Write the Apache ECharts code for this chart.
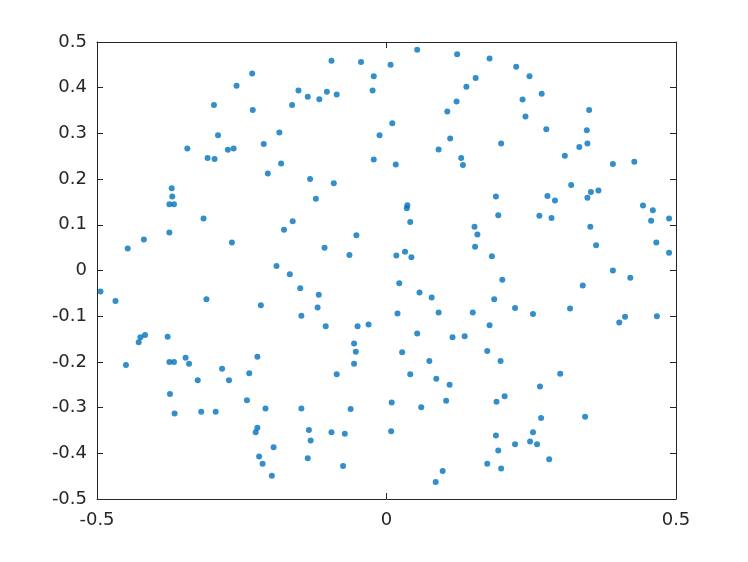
<!DOCTYPE html>
<html>
<head>
<meta charset="utf-8">
<script src="https://cdn.jsdelivr.net/npm/echarts@6/dist/echarts.min.js"></script>
<style>
  html, body { margin: 0; padding: 0; background: #fff; }
  #chart { width: 748px; height: 562px; }
</style>
</head>
<body>
<div id="chart"></div>
<script>
// point positions
const xs = [
  -0.232, -0.259, -0.298, -0.231, -0.163, -0.291, -0.344, -0.309, -0.297, -0.274,
  -0.264, -0.212, -0.185, -0.182, -0.205, -0.371, -0.152, -0.136, -0.116, -0.103,
  -0.086, -0.095, -0.044, 0.007, 0.053, 0.122, -0.022, -0.024, 0.154, 0.138,
  0.121, 0.105, 0.010, -0.012, 0.110, 0.090, 0.129, 0.132, -0.022, 0.016,
  -0.132, -0.091, 0.178, 0.224, 0.247, 0.268, 0.235, 0.350, 0.240, 0.276,
  0.346, 0.198, 0.347, 0.333, 0.308, 0.391, 0.428, 0.319, 0.353, 0.366,
  0.189, 0.193, 0.278, 0.291, 0.347, 0.264, 0.285, 0.352, 0.443, 0.460,
  0.457, 0.488, 0.362, 0.466, 0.488, 0.182, 0.200, 0.391, 0.421, 0.339,
  0.186, 0.222, 0.253, 0.317, 0.178, 0.402, 0.412, 0.467, -0.370, -0.375,
  -0.367, -0.316, -0.375, -0.419, -0.447, -0.267, -0.177, -0.190, -0.167, -0.494,
  -0.468, -0.311, -0.217, -0.425, -0.428, -0.417, -0.378, -0.122, -0.162, -0.052,
  -0.107, -0.064, -0.149, -0.117, -0.119, -0.147, -0.105, -0.050, -0.031, -0.056,
  0.036, 0.035, 0.041, 0.152, 0.157, 0.153, 0.017, 0.032, 0.043, 0.022,
  0.057, 0.078, 0.019, 0.090, 0.149, 0.053, 0.114, 0.135, -0.450, -0.375,
  -0.367, -0.347, -0.341, -0.374, -0.366, -0.326, -0.320, -0.295, -0.284, -0.272,
  -0.223, -0.237, -0.241, -0.209, -0.223, -0.226, -0.195, -0.220, -0.214, -0.198,
  -0.053, -0.056, -0.086, 0.027, 0.074, 0.041, 0.086, 0.109, 0.103, 0.009,
  0.060, -0.147, -0.062, -0.134, -0.095, -0.072, 0.008, -0.131, -0.136, -0.075,
  0.097, 0.085, 0.174, 0.197, 0.300, 0.265, 0.204, 0.190, 0.267, 0.343,
  0.189, 0.253, 0.248, 0.222, 0.260, 0.193, 0.281, 0.174, 0.198
];
const ys = [
  0.431, 0.404, 0.362, 0.351, 0.362, 0.296, 0.267, 0.246, 0.244, 0.264,
  0.267, 0.277, 0.302, 0.234, 0.212, 0.180, 0.394, 0.380, 0.375, 0.391,
  0.385, 0.459, 0.456, 0.450, 0.483, 0.473, 0.425, 0.394, 0.421, 0.402,
  0.370, 0.348, 0.322, 0.296, 0.289, 0.265, 0.246, 0.231, 0.243, 0.232,
  0.200, 0.191, 0.464, 0.446, 0.425, 0.387, 0.374, 0.351, 0.337, 0.309,
  0.307, 0.278, 0.278, 0.270, 0.251, 0.233, 0.238, 0.187, 0.172, 0.175,
  0.162, 0.121, 0.163, 0.153, 0.159, 0.120, 0.115, 0.096, 0.142, 0.132,
  0.109, 0.114, 0.055, 0.061, 0.039, 0.031, -0.020, 0.000, -0.016, -0.033,
  -0.063, -0.082, -0.095, -0.083, -0.120, -0.114, -0.101, -0.100, 0.162, 0.145,
  0.145, 0.114, 0.083, 0.068, 0.048, 0.061, 0.089, 0.010, -0.008, -0.046,
  -0.067, -0.063, -0.076, -0.146, -0.157, -0.141, -0.145, 0.157, 0.108, 0.077,
  0.050, 0.034, -0.039, -0.053, -0.081, -0.099, -0.122, -0.122, -0.118, -0.160,
  0.143, 0.136, 0.106, 0.096, 0.079, 0.052, 0.033, 0.041, 0.029, -0.028,
  -0.048, -0.059, -0.094, -0.092, -0.092, -0.138, -0.146, -0.144, -0.207, -0.200,
  -0.200, -0.191, -0.204, -0.270, -0.313, -0.240, -0.309, -0.309, -0.215, -0.240,
  -0.189, -0.225, -0.284, -0.302, -0.344, -0.354, -0.387, -0.407, -0.423, -0.449,
  -0.178, -0.204, -0.227, -0.179, -0.198, -0.227, -0.237, -0.250, -0.285, -0.289,
  -0.299, -0.302, -0.303, -0.349, -0.354, -0.357, -0.352, -0.372, -0.411, -0.428,
  -0.439, -0.463, -0.176, -0.198, -0.226, -0.254, -0.275, -0.287, -0.323, -0.320,
  -0.361, -0.354, -0.374, -0.380, -0.380, -0.394, -0.413, -0.423, -0.433
];
const xTickLabels = ['-0.5', '0', '0.5'];
const yTickLabels = ['-0.5', '-0.4', '-0.3', '-0.2', '-0.1', '0', '0.1', '0.2', '0.3', '0.4', '0.5'];

const axisColor = '#262626';
const dotColor = '#0072bd';

const points = xs.map((x, i) => [x, ys[i]]);
const labelOf = (labels, min, step) => v => labels[Math.round((v - min) / step)] ?? '';

const chart = echarts.init(document.getElementById('chart'));

const baseAxis = {
  type: 'value',
  axisLine: { show: true, onZero: false, lineStyle: { color: axisColor, width: 1 } },
  axisTick: { show: true, inside: true, length: 6, lineStyle: { color: axisColor } },
  splitLine: { show: false }
};

chart.setOption({
  animation: false,
  backgroundColor: '#fff',
  grid: { left: 97, right: 72, top: 42, bottom: 63 },
  xAxis: [
    {
      ...baseAxis, position: 'bottom', min: -0.5, max: 0.5, interval: 0.5,
      axisLabel: {
        color: axisColor, fontSize: 18, fontFamily: 'DejaVu Sans', margin: 12,
        formatter: labelOf(xTickLabels, -0.5, 0.5)
      }
    },
    {
      ...baseAxis, position: 'top', min: -0.5, max: 0.5, interval: 0.5,
      axisLabel: { show: false }
    }
  ],
  yAxis: [
    {
      ...baseAxis, position: 'left', min: -0.5, max: 0.5, interval: 0.1,
      axisLabel: {
        color: axisColor, fontSize: 18, fontFamily: 'DejaVu Sans', margin: 10,
        formatter: labelOf(yTickLabels, -0.5, 0.1)
      }
    },
    {
      ...baseAxis, position: 'right', min: -0.5, max: 0.5, interval: 0.1,
      axisLabel: { show: false }
    }
  ],
  series: [
    {
      type: 'scatter',
      xAxisIndex: 0,
      yAxisIndex: 0,
      symbol: 'circle',
      symbolSize: 6,
      itemStyle: { color: dotColor },
      data: points
    }
  ]
});
</script>
</body>
</html>
